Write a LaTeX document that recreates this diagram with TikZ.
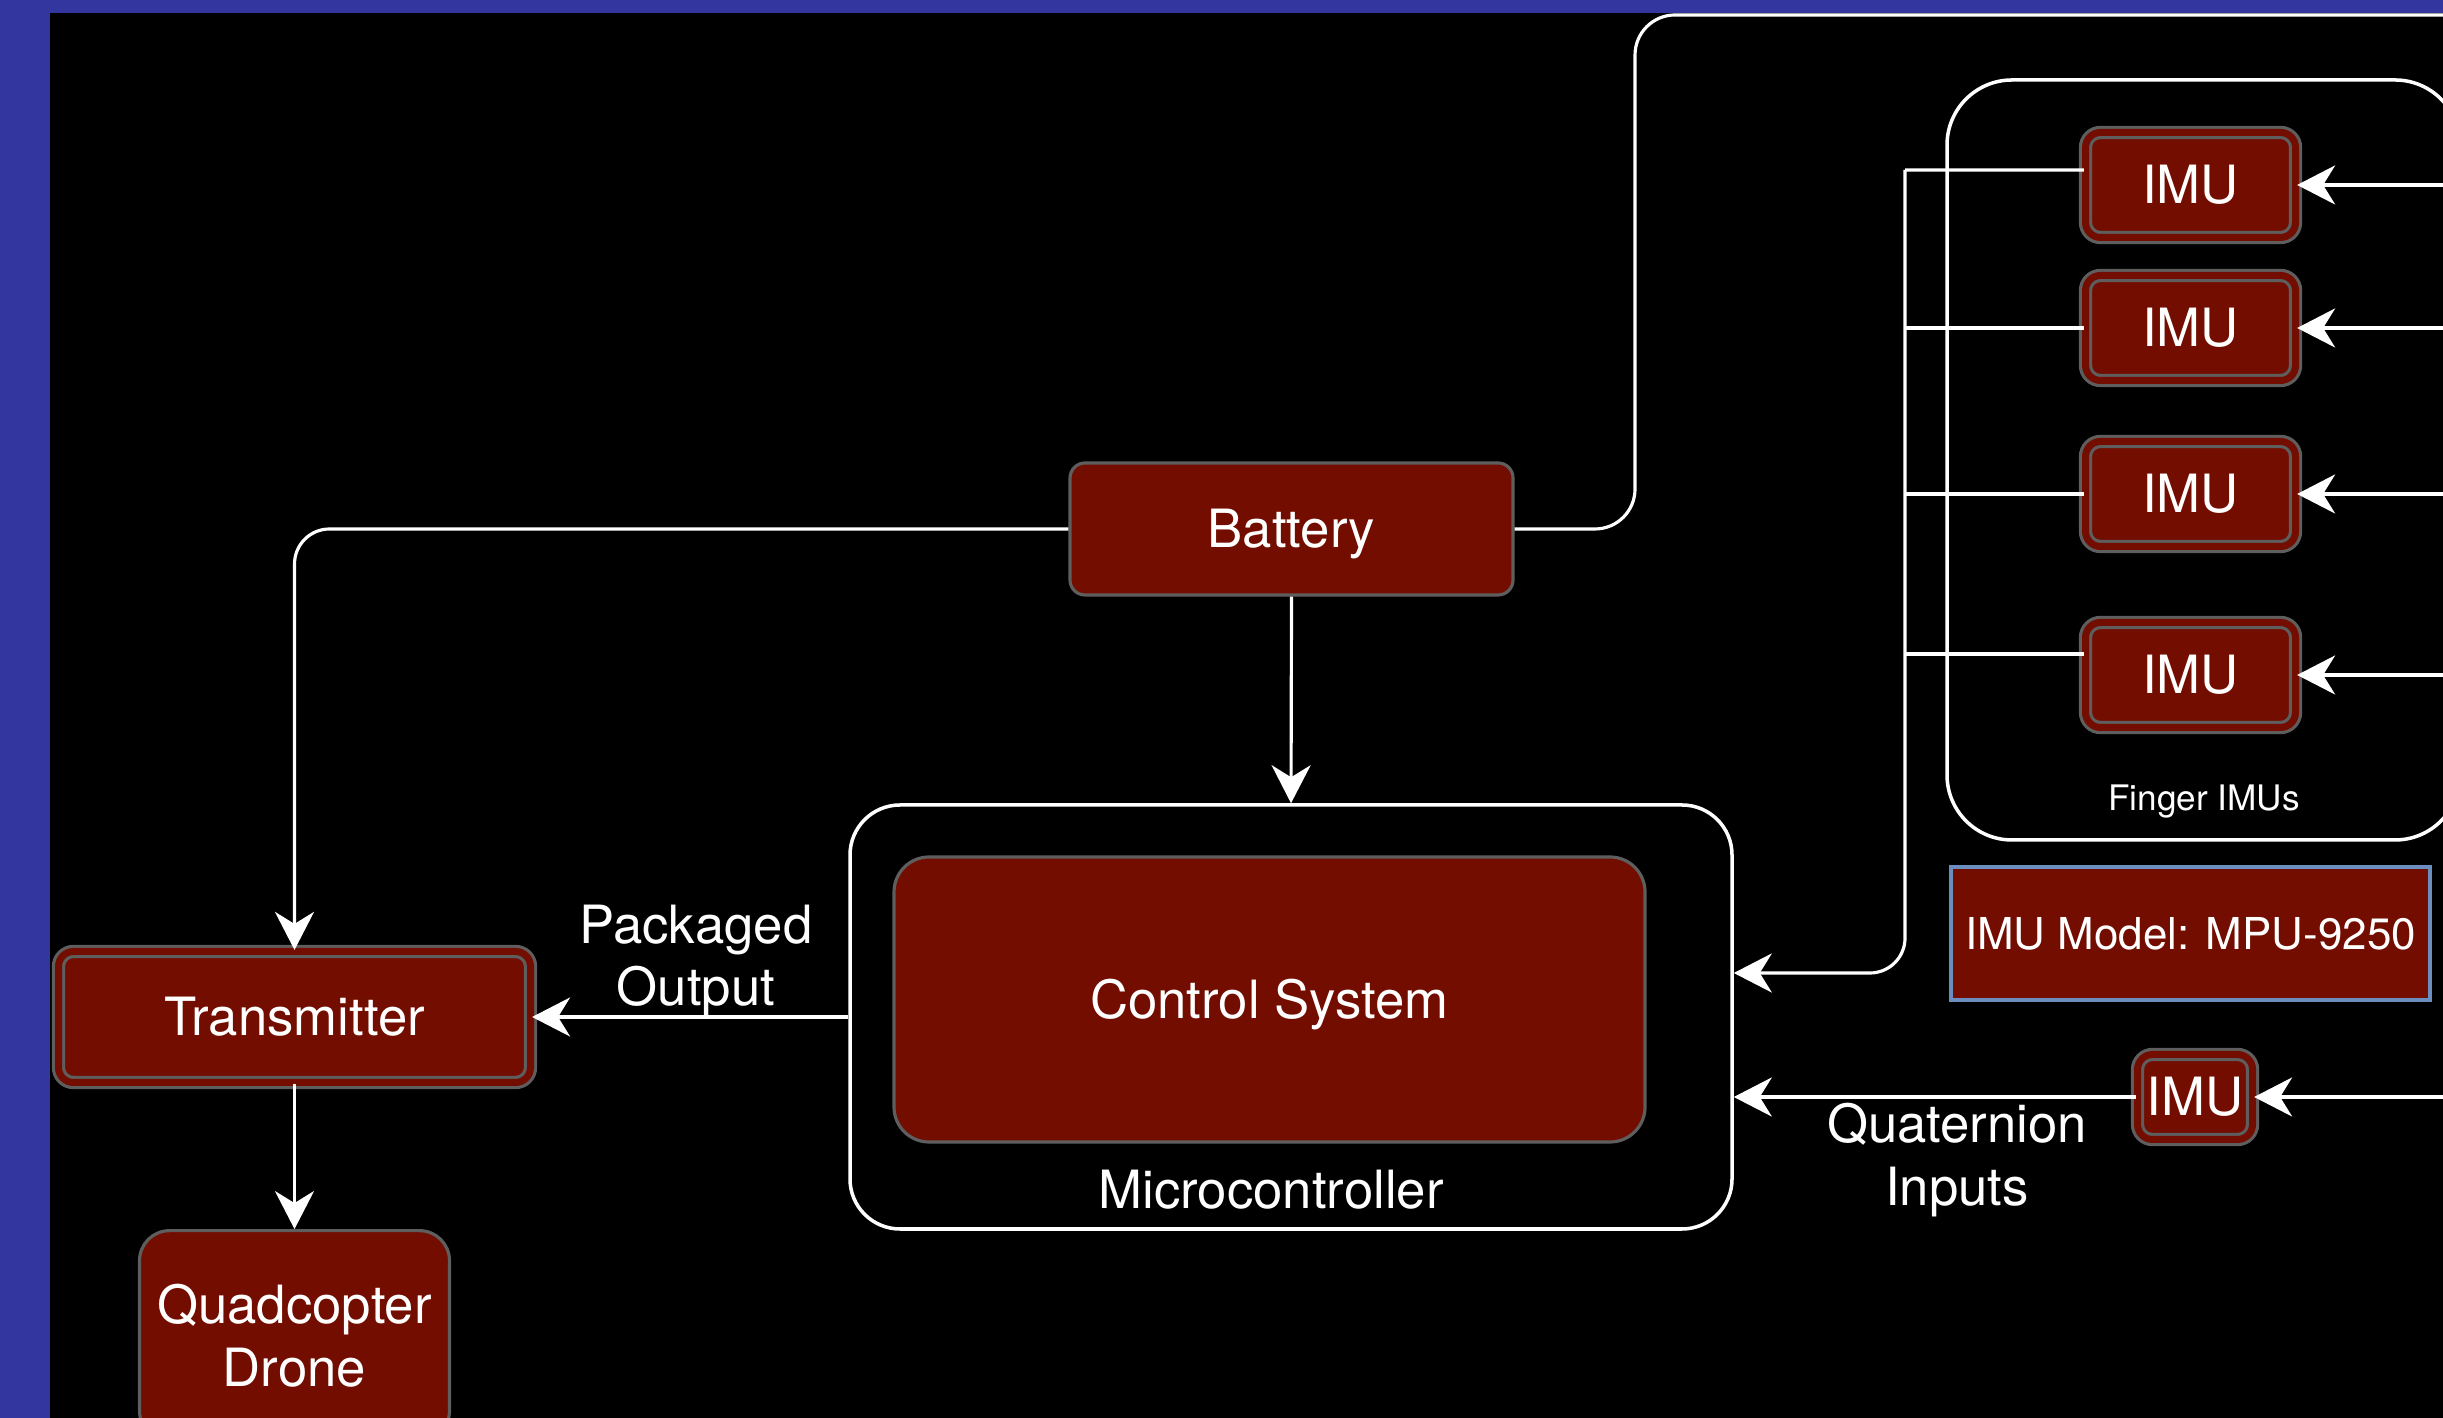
\documentclass[tikz,border=0pt]{standalone}
\usepackage{fontspec}
\setmainfont{TeX Gyre Heros}
\usetikzlibrary{arrows.meta,positioning,calc}
\definecolor{SlideBlue}{HTML}{3436A0}
\definecolor{Brick}{HTML}{720D00}
\definecolor{BoxEdge}{HTML}{5E5E5E}
\definecolor{Steel}{HTML}{6C8EBF}

\begin{document}
\begin{tikzpicture}[font=\fontsize{15}{17.7}\selectfont,text=white,
  blk/.style={draw=BoxEdge,line width=0.9pt,fill=Brick,rounded corners=1.5mm,inner sep=0pt,align=center},
  oneline/.style={text height=10.8pt,text depth=0pt},
  dbl/.style={blk,oneline,double=Brick,double distance=0.7mm},
  imu/.style={dbl,minimum width=2.1cm,minimum height=1.05cm},
  grp/.style={draw=white,line width=1pt,inner sep=0pt},
  wire/.style={white,line width=0.9pt},
  arr/.style={-{Stealth[length=3.8mm,width=3.9mm,inset=1.2mm]}}]
  \useasboundingbox (0,0) rectangle (24.43,14.18);
  \clip (0,0) rectangle (24.43,14.18);
  \fill[SlideBlue] (0,0) rectangle (24.43,14.18);
  \fill[black] (0.5,0) rectangle (24.43,14.05);

  % groups
  \node[grp,rounded corners=5mm,minimum width=8.82cm,minimum height=4.24cm] (micro) at (12.91,4.01) {};
  \node[grp,rounded corners=6.5mm,minimum width=5.13cm,minimum height=7.6cm] (fingers) at (22.035,9.58) {};

  % blocks
  \node[blk,oneline,rounded corners=3.5mm,minimum width=7.51cm,minimum height=2.85cm] (ctrl) at (12.695,4.185) {Control System};
  \node (microlbl) at (12.71,2.28) {Microcontroller};
  \node[blk,oneline,minimum width=4.43cm,minimum height=1.32cm] (battery) at (12.915,8.89) {Battery};
  \node[dbl,minimum width=4.72cm,minimum height=1.31cm] (tx) at (2.945,4.01) {Transmitter};
  \node[blk,rounded corners=3mm,minimum width=3.1cm,minimum height=2.1cm,below=1.45cm of tx] (quad) {Quadcopter\\Drone};

  \node[imu] (imu1) at (21.905,12.33) {IMU};
  \node[imu] (imu2) at (21.905,10.90) {IMU};
  \node[imu] (imu3) at (21.905,9.24) {IMU};
  \node[imu] (imu4) at (21.905,7.43) {IMU};
  \node[font=\fontsize{10}{12}\selectfont] (fingerlbl) at (22.04,6.16) {Finger IMUs};
  \node[draw=Steel,fill=Brick,line width=0.9pt,minimum width=4.79cm,minimum height=1.33cm,text height=9pt,text depth=0pt,font=\fontsize{12.5}{15}\selectfont] (model) at (21.905,4.845) {IMU Model: MPU-9250};
  \node[dbl,minimum width=1.15cm,minimum height=0.85cm] (imu5) at (21.95,3.21) {IMU};

  \node[align=center] (pkg) at (6.96,4.57) {Packaged\\Output};
  \node[align=center] (quat) at (19.57,2.58) {Quaternion\\Inputs};

  % power
  \coordinate (toprise) at (16.35,14.03);
  \coordinate (topout) at (24.6,14.03);
  \draw[wire,arr] (battery.south) -- (micro.north);
  \draw[wire,arr,rounded corners=3.5mm] (battery.west) -| (tx.north);
  \draw[wire,rounded corners=4mm] (battery.east) -| (toprise) -- (topout);

  % output side
  \draw[wire,arr] (micro.west) -- (tx.east);
  \draw[wire,arr] (tx.south) -- (quad.north);

  % finger bus
  \coordinate (bustop) at (19.05,12.48);
  \coordinate (busin) at (19.05,4.45);
  \draw[wire] ([yshift=1.5mm]imu1.west) -- (bustop);
  \draw[wire,arr,rounded corners=3.5mm] (bustop) |- (micro.east |- busin);
  \foreach \n in {imu2,imu3}{\draw[wire] (\n.west) -- (\n.west -| bustop);}
  \draw[wire] ([yshift=2.1mm]imu4.west) -- ($(imu4.west -| bustop)+(0,2.1mm)$);

  % sensor inputs
  \foreach \n in {1,...,5}{
    \coordinate (src\n) at ($(imu\n.east)+(2.5,0)$);
    \draw[wire,arr] (src\n) -- (imu\n.east);
  }
  \draw[wire,arr] (imu5.west) -- (imu5.west -| micro.east);
\end{tikzpicture}
\end{document}
